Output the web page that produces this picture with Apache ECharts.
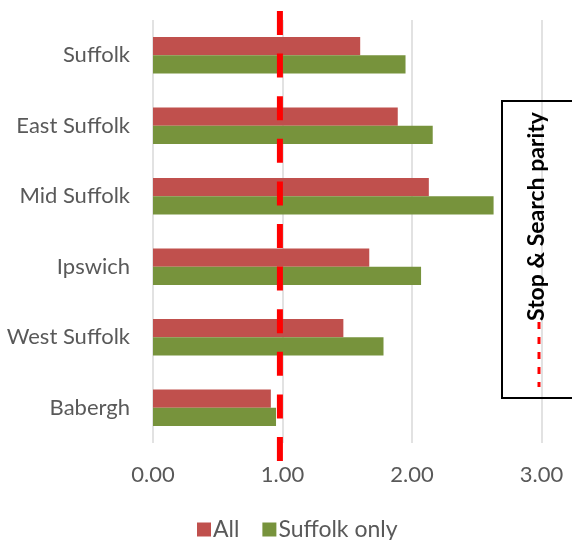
<!DOCTYPE html>
<html>
<head>
<meta charset="utf-8">
<script src="https://cdn.jsdelivr.net/npm/echarts@6/dist/echarts.min.js"></script>
<style>
  html, body { margin: 0; padding: 0; background: #ffffff; }
  #chart { width: 572px; height: 540px; }
</style>
</head>
<body>
<div id="chart"></div>
<script>
// Stop & search disproportionality ratios by area
const categories = ['Suffolk', 'East Suffolk', 'Mid Suffolk', 'Ipswich', 'West Suffolk', 'Babergh'];
const allRatio = [1.60, 1.89, 2.13, 1.67, 1.47, 0.91];
const suffolkOnlyRatio = [1.95, 2.16, 2.63, 2.07, 1.78, 0.95];
const xTicks = [0, 1, 2, 3];
// Parity reference line (drawn from bottom to top of its own grid)
const parityX = 0.98;
const parityLine = [[parityX, 0], [parityX, 1]];

const FONT = 'Lato';
const GREY = '#595959';

const chart = echarts.init(document.getElementById('chart'), null, { renderer: 'canvas' });

chart.setOption({
  animation: false,
  textStyle: { fontFamily: FONT },
  grid: [
    { left: 153, right: 30.5, top: 20, bottom: 97 },
    { left: 153, right: 30.5, top: 11, bottom: 79 }
  ],
  xAxis: [
    {
      gridIndex: 0, type: 'value', min: xTicks[0], max: xTicks[xTicks.length - 1], interval: 1,
      axisLine: { show: false }, axisTick: { show: false },
      axisLabel: { color: GREY, fontSize: 22, fontFamily: FONT, margin: 21,
        formatter: v => v.toFixed(2) },
      splitLine: { show: true, lineStyle: { color: '#d9d9d9', width: 1.5 } }
    },
    {
      gridIndex: 1, type: 'value', min: xTicks[0], max: xTicks[xTicks.length - 1],
      show: false
    }
  ],
  yAxis: [
    {
      gridIndex: 0, type: 'category', data: categories, inverse: true,
      axisLine: { show: false }, axisTick: { show: false },
      axisLabel: { color: GREY, fontSize: 22, fontFamily: FONT, margin: 23 },
      splitLine: { show: false }
    },
    { gridIndex: 1, type: 'value', min: 0, max: 1, show: false }
  ],
  legend: {
    data: ['All', 'Suffolk only'],
    top: 513, left: 192,
    icon: 'rect', itemWidth: 14, itemHeight: 14, itemGap: 23,
    textStyle: { color: GREY, fontSize: 23, fontFamily: FONT, padding: [0, 0, 0, -3] }
  },
  series: [
    {
      name: 'All', type: 'bar', xAxisIndex: 0, yAxisIndex: 0,
      data: allRatio, barWidth: 18.3, barGap: '0%',
      itemStyle: { color: '#C0504D' }
    },
    {
      name: 'Suffolk only', type: 'bar', xAxisIndex: 0, yAxisIndex: 0,
      data: suffolkOnlyRatio, barWidth: 18.3, barGap: '0%',
      itemStyle: { color: '#77933C' }
    },
    {
      name: 'Stop & Search parity', type: 'line', xAxisIndex: 1, yAxisIndex: 1,
      data: parityLine, symbol: 'none', z: 10,
      lineStyle: { color: '#FF0000', width: 6, type: [24, 18.6], cap: 'butt' }
    }
  ],
  graphic: [
    {
      type: 'rect', z: 20,
      shape: { x: 502, y: 101, width: 120, height: 297 },
      style: { fill: 'rgba(0,0,0,0)', stroke: '#000000', lineWidth: 2 }
    },
    {
      type: 'text', z: 21,
      x: 537, y: 216.5, rotation: Math.PI / 2,
      style: {
        text: 'Stop & Search parity', fill: '#000000',
        font: 'bold 23px ' + FONT, align: 'center', verticalAlign: 'middle'
      }
    },
    {
      type: 'line', z: 21,
      shape: { x1: 539, y1: 322, x2: 539, y2: 387 },
      style: { stroke: '#FF0000', lineWidth: 3, lineDash: [7, 8] }
    }
  ]
});
</script>
</body>
</html>
